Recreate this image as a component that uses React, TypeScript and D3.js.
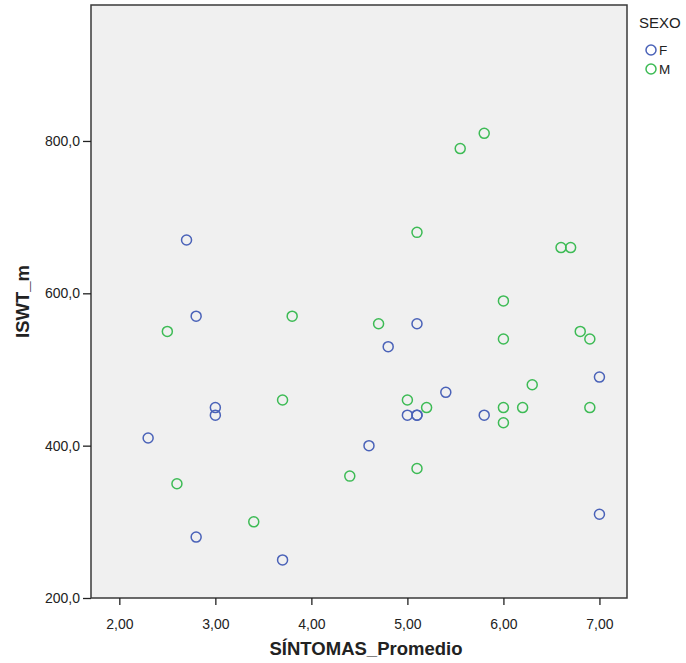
import { useEffect, useRef } from 'react';
import * as d3 from 'd3';

// SEXO = F
const femX = [2.3, 2.7, 2.8, 3.0, 3.0, 2.8, 3.7, 4.6, 4.8, 5.0, 5.1, 5.1, 5.1, 5.4, 5.8, 7.0, 7.0];
const femY = [410, 670, 570, 450, 440, 280, 250, 400, 530, 440, 560, 440, 440, 470, 440, 490, 310];

// SEXO = M
const masX = [2.5, 2.6, 3.4, 3.7, 3.8, 4.4, 4.7, 5.0, 5.1, 5.1, 5.2, 5.55, 5.8, 6.0, 6.0, 6.0, 6.0, 6.2, 6.3, 6.6, 6.7, 6.8, 6.9, 6.9];
const masY = [550, 350, 300, 460, 570, 360, 560, 460, 680, 370, 450, 790, 810, 590, 540, 450, 430, 450, 480, 660, 660, 550, 540, 450];

const xTicks = [2, 3, 4, 5, 6, 7];
const yTicks = [200, 400, 600, 800];
const groups = ['F', 'M'];
const groupColors = ['#4a62b8', '#3dbb55'];

const App = () => {
  const ref = useRef<SVGSVGElement>(null);

  useEffect(() => {
    const svg = d3.select(ref.current);
    svg.selectAll('*').remove();

    const font = '"Liberation Sans", Arial, sans-serif';
    const left = 91, right = 627, top = 5, bottom = 598;
    const x = d3.scaleLinear().domain([1.705, 7.287]).range([left, right]);
    const y = d3.scaleLinear().domain([200, 978.5]).range([bottom, top]);
    const fmt = (v: number, d: number) => d3.format(`.${d}f`)(v).replace('.', ',');

    svg.append('rect')
      .attr('x', left).attr('y', top)
      .attr('width', right - left).attr('height', bottom - top)
      .attr('fill', '#f0f0f0')
      .attr('stroke', '#3a3a3a')
      .attr('stroke-width', 1.5);

    const xAxis = svg.append('g')
      .attr('transform', `translate(0,${bottom})`)
      .call(d3.axisBottom(x).tickValues(xTicks).tickSize(7).tickSizeOuter(0).tickPadding(14)
        .tickFormat(d => fmt(+d, 2)));
    xAxis.select('.domain').remove();

    const yAxis = svg.append('g')
      .attr('transform', `translate(${left},0)`)
      .call(d3.axisLeft(y).tickValues(yTicks).tickSize(8).tickSizeOuter(0).tickPadding(3)
        .tickFormat(d => fmt(+d, 1)));
    yAxis.select('.domain').remove();

    svg.selectAll('.tick line').attr('stroke', '#222').attr('stroke-width', 1.3);
    svg.selectAll('.tick text')
      .attr('fill', '#222')
      .style('font-family', font)
      .style('font-size', '14px');

    svg.append('text')
      .attr('x', 366).attr('y', 655)
      .attr('text-anchor', 'middle')
      .style('font-family', font)
      .style('font-size', '18.5px').style('font-weight', 'bold')
      .attr('fill', '#222')
      .text('SÍNTOMAS_Promedio');

    svg.append('text')
      .attr('transform', `translate(29,${(top + bottom) / 2}) rotate(-90)`)
      .attr('text-anchor', 'middle')
      .style('font-family', font)
      .style('font-size', '18.5px').style('font-weight', 'bold')
      .attr('fill', '#222')
      .text('ISWT_m');

    const series = [
      { xs: femX, ys: femY },
      { xs: masX, ys: masY },
    ];
    series.forEach((s, gi) => {
      svg.append('g').selectAll('circle')
        .data(s.xs.map((v, i) => [v, s.ys[i]]))
        .enter()
        .append('circle')
        .attr('cx', d => x(d[0]))
        .attr('cy', d => y(d[1]))
        .attr('r', 5)
        .attr('fill', 'none')
        .attr('stroke', groupColors[gi])
        .attr('stroke-width', 1.5);
    });

    // legend
    const legend = svg.append('g')
      .style('font-family', font)
      .attr('fill', '#222');
    legend.append('text')
      .attr('x', 639).attr('y', 28)
      .style('font-size', '15px')
      .text('SEXO');
    groups.forEach((g, i) => {
      legend.append('circle')
        .attr('cx', 651).attr('cy', 50 + i * 19)
        .attr('r', 5)
        .attr('fill', 'none')
        .attr('stroke', groupColors[i])
        .attr('stroke-width', 1.5);
      legend.append('text')
        .attr('x', 659).attr('y', 55 + i * 19)
        .style('font-size', '13.5px')
        .text(g);
    });
  }, []);

  return (
    <svg ref={ref} width={686} height={663}
      style={{ position: 'absolute', left: 0, top: 0, background: '#ffffff' }} />
  );
};

export default App;
